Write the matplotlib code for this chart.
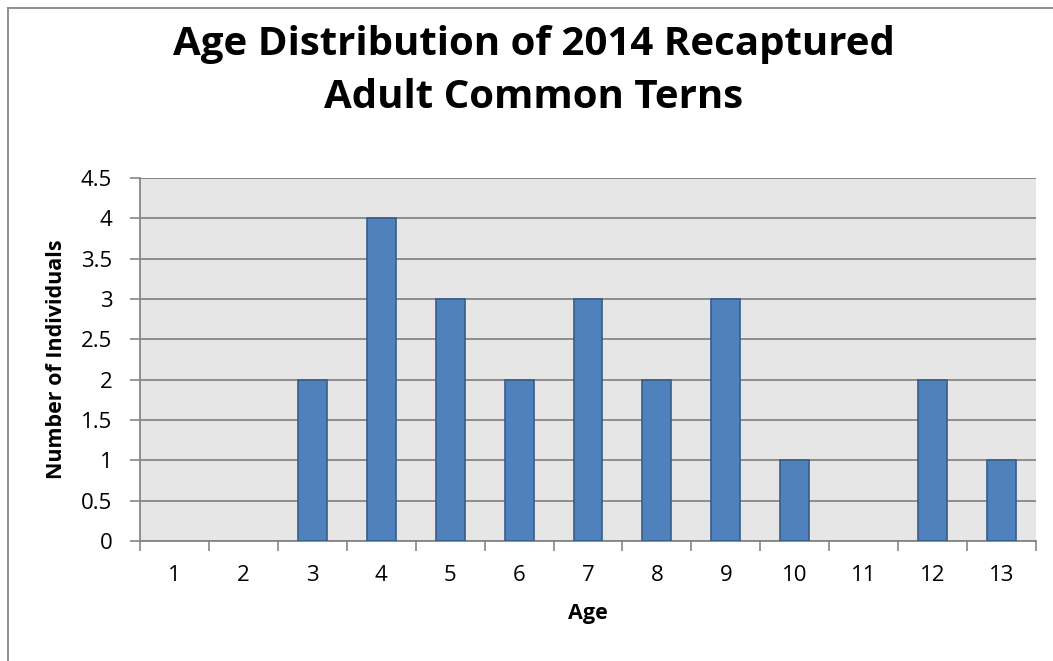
import matplotlib.pyplot as plt
from matplotlib.lines import Line2D

# Data
ages = [1, 2, 3, 4, 5, 6, 7, 8, 9, 10, 11, 12, 13]
counts = [0, 0, 2, 4, 3, 2, 3, 2, 3, 1, 0, 2, 1]
y_ticks = [0, 0.5, 1, 1.5, 2, 2.5, 3, 3.5, 4, 4.5]
y_tick_labels = ['0', '0.5', '1', '1.5', '2', '2.5', '3', '3.5', '4', '4.5']

W, H = 1053, 661
fig = plt.figure(figsize=(W / 100, H / 100), dpi=100)
plt.rcParams['font.family'] = ['Open Sans', 'DejaVu Sans']

grid_gray = '#868686'
bar_blue = '#4F81BD'
bar_edge = '#385D8A'

ax = fig.add_axes([140 / W, (H - 541) / H, (1036 - 140) / W, (541 - 178) / H])
ax.set_facecolor('#E6E6E6')

positions = list(range(len(ages)))
bars = ax.bar(positions, counts, width=0.42, color=bar_blue, edgecolor=bar_edge,
              linewidth=1.2, zorder=3)
for b, c in zip(bars, counts):
    if c == 0:
        b.set_visible(False)

ax.set_xlim(-0.5, len(ages) - 0.5)
ax.set_ylim(0, 4.5)
ax.set_yticks(y_ticks)
ax.set_yticklabels(y_tick_labels, fontsize=16)
ax.set_xticks(positions)
ax.set_xticklabels([str(a) for a in ages], fontsize=16)
ax.tick_params(axis='x', length=0, pad=17)
ax.tick_params(axis='y', length=7, width=1.2, color=grid_gray, pad=13)

# Minor ticks between categories for the x axis
ax.set_xticks([p - 0.5 for p in positions] + [len(ages) - 0.5], minor=True)
ax.tick_params(axis='x', which='minor', length=7, width=1.2, color=grid_gray)

ax.yaxis.grid(True, color=grid_gray, linewidth=1.3, zorder=1)
ax.set_axisbelow(True)

for side in ['top', 'right']:
    ax.spines[side].set_visible(False)
for side in ['left', 'bottom']:
    ax.spines[side].set_color(grid_gray)
    ax.spines[side].set_linewidth(1.3)
ax.axhline(4.5, color=grid_gray, linewidth=1.3, zorder=1)

ax.set_xlabel('Age', fontsize=15.5, fontweight='bold')
ax.set_ylabel('Number of Individuals', fontsize=15.5, fontweight='bold')
ax.xaxis.set_label_coords(0.5, -(614 - 541) / (541 - 178), transform=ax.transAxes)
ax.xaxis.label.set_va('center')
ax.yaxis.set_label_coords(-(140 - 57) / (1036 - 140), 0.5, transform=ax.transAxes)
ax.yaxis.label.set_va('center')

# Title
fig.text(534 / W, 1 - 44 / H, 'Age Distribution of 2014 Recaptured',
         fontsize=29, fontweight='bold', ha='center', va='center')
fig.text(534 / W, 1 - 98 / H, 'Adult Common Terns',
         fontsize=29, fontweight='bold', ha='center', va='center')

# Chart border (top and left visible)
fig.add_artist(Line2D([7.5 / W, 1], [1 - 7.5 / H, 1 - 7.5 / H],
                      transform=fig.transFigure, color='#888888', linewidth=1.3))
fig.add_artist(Line2D([7.5 / W, 7.5 / W], [0, 1 - 7.5 / H],
                      transform=fig.transFigure, color='#888888', linewidth=1.3))

fig.savefig('out.png', dpi=100, facecolor='white')
